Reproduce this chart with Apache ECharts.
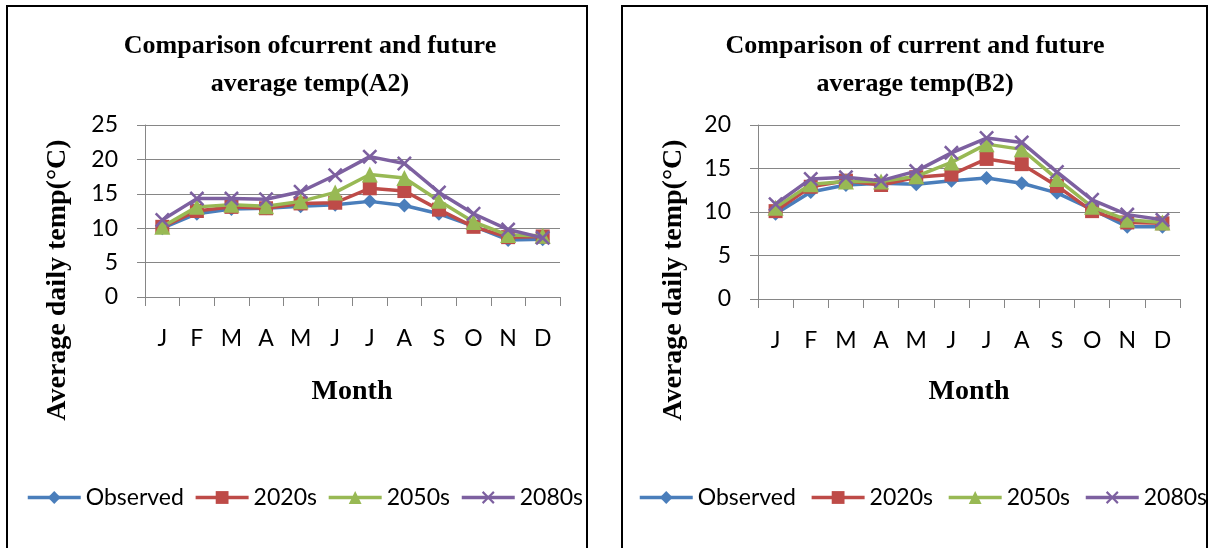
<!DOCTYPE html>
<html>
<head>
<meta charset="utf-8">
<title>Comparison of current and future average temp</title>
<script src="https://cdn.jsdelivr.net/npm/echarts@6/dist/echarts.min.js"></script>
<style>
  html, body { margin: 0; padding: 0; background: #ffffff; }
  #chart { width: 1210px; height: 548px; }
</style>
</head>
<body>
<div id="chart"></div>
<script>
// Month initials on the category axis
const months = ['J', 'F', 'M', 'A', 'M', 'J', 'J', 'A', 'S', 'O', 'N', 'D'];
const seriesNames = ['Observed', '2020s', '2050s', '2080s'];

// A2 scenario: average daily temperature (°C)
const a2Observed = [10.0, 12.1, 12.8, 12.9, 13.2, 13.4, 13.9, 13.3, 12.1, 10.3, 8.3, 8.4];
const a2In2020s  = [10.2, 12.5, 13.1, 12.9, 13.6, 13.7, 15.8, 15.4, 12.7, 10.2, 8.7, 8.8];
const a2In2050s  = [10.2, 13.1, 13.4, 13.2, 13.9, 15.2, 17.8, 17.3, 14.0, 10.9, 9.0, 8.9];
const a2In2080s  = [11.2, 14.3, 14.3, 14.2, 15.3, 17.7, 20.4, 19.4, 15.2, 12.1, 9.8, 8.6];

// B2 scenario: average daily temperature (°C)
const b2Observed = [9.8, 12.3, 13.1, 13.3, 13.2, 13.6, 13.9, 13.3, 12.2, 10.3, 8.3, 8.3];
const b2In2020s  = [10.1, 12.9, 13.6, 13.1, 14.0, 14.3, 16.1, 15.5, 13.0, 10.1, 8.8, 8.7];
const b2In2050s  = [10.5, 13.2, 13.5, 13.5, 14.1, 15.7, 17.8, 17.2, 13.8, 10.6, 9.1, 8.8];
const b2In2080s  = [10.9, 13.8, 14.0, 13.6, 14.7, 16.8, 18.5, 18.0, 14.6, 11.4, 9.7, 9.1];

// Y-axis tick settings per panel
const a2Axis = { min: 0, max: 25, interval: 5 };
const b2Axis = { min: 0, max: 20, interval: 5 };

const colors = ['#4A7EBB', '#BE4B48', '#98B954', '#7D60A0'];
const crossPath = 'path://M0,1.2 L1.2,0 L5,3.8 L8.8,0 L10,1.2 L6.2,5 L10,8.8 L8.8,10 L5,6.2 L1.2,10 L0,8.8 L3.8,5 Z';
const symbols = ['diamond', 'rect', 'triangle', crossPath];
const symbolSizes = [14, 14, 16, 15];

const gridColor = '#868686';
const sansFont = 'Lato';
const serifFont = '"Liberation Serif"';

function makeAxes(gridIndex, yCfg) {
  const xAxis = {
    type: 'category',
    gridIndex: gridIndex,
    data: months,
    boundaryGap: true,
    axisLine: { show: true, lineStyle: { color: gridColor, width: 1 } },
    axisTick: { show: true, length: 9, lineStyle: { color: gridColor } },
    axisLabel: { color: '#000', fontFamily: sansFont, fontSize: 23, margin: 30 },
    splitLine: { show: false }
  };
  const yAxis = {
    type: 'value',
    gridIndex: gridIndex,
    min: yCfg.min,
    max: yCfg.max,
    interval: yCfg.interval,
    axisLine: { show: true, lineStyle: { color: gridColor, width: 1 } },
    axisTick: { show: true, length: 8, lineStyle: { color: gridColor } },
    axisLabel: { color: '#000', fontFamily: sansFont, fontSize: 23, margin: 27 },
    splitLine: { show: true, lineStyle: { color: gridColor, width: 1 } }
  };
  return { xAxis, yAxis };
}

function makeSeries(index, dataSets) {
  return dataSets.map((d, i) => ({
    name: seriesNames[i],
    type: 'line',
    xAxisIndex: index,
    yAxisIndex: index,
    data: d,
    symbol: symbols[i],
    symbolSize: symbolSizes[i],
    showAllSymbol: true,
    lineStyle: { color: colors[i], width: 3.5 },
    itemStyle: { color: colors[i] },
    emphasis: { disabled: true },
    z: 2 + i
  }));
}

const a2 = makeAxes(0, a2Axis);
const b2 = makeAxes(1, b2Axis);

function legendFor(left, gap) {
  return {
    left: left,
    top: 486,
    width: 575,
    padding: 0,
    orient: 'horizontal',
    itemWidth: 53,
    itemHeight: 16,
    itemGap: gap,
    data: seriesNames,
    selectedMode: false,
    lineStyle: { width: 3.5 },
    textStyle: { color: '#000', fontFamily: sansFont, fontSize: 23 }
  };
}

function label(text, x, y, size, rotation) {
  return {
    type: 'text',
    x: x,
    y: y,
    rotation: rotation || 0,
    silent: true,
    style: {
      text: text,
      font: 'bold ' + size + 'px ' + serifFont,
      fill: '#000',
      align: 'center',
      verticalAlign: 'middle',
      lineHeight: 38
    }
  };
}

const option = {
  backgroundColor: '#ffffff',
  animation: false,
  color: colors,
  grid: [
    { left: 145, top: 125, width: 415, height: 172, containLabel: false },
    { left: 758, top: 125, width: 422, height: 174, containLabel: false }
  ],
  xAxis: [a2.xAxis, b2.xAxis],
  yAxis: [a2.yAxis, b2.yAxis],
  legend: [legendFor(26, 10), legendFor(638, 14)],
  series: makeSeries(0, [a2Observed, a2In2020s, a2In2050s, a2In2080s])
    .concat(makeSeries(1, [b2Observed, b2In2020s, b2In2050s, b2In2080s])),
  graphic: [
    { type: 'rect', silent: true, shape: { x: 7, y: 6, width: 580, height: 560 },
      style: { fill: 'none', stroke: '#000', lineWidth: 2 } },
    { type: 'rect', silent: true, shape: { x: 622, y: 6, width: 585, height: 560 },
      style: { fill: 'none', stroke: '#000', lineWidth: 2 } },
    label('Comparison ofcurrent and future\naverage temp(A2)', 310, 65, 26),
    label('Comparison of current and future\naverage temp(B2)', 915, 65, 26),
    label('Average daily temp(°C)', 58, 280, 28, Math.PI / 2),
    label('Average daily temp(°C)', 674, 280, 28, Math.PI / 2),
    label('Month', 352, 392, 28),
    label('Month', 969, 392, 28)
  ]
};

const chart = echarts.init(document.getElementById('chart'), null, { renderer: 'canvas' });
chart.setOption(option);
</script>
</body>
</html>
